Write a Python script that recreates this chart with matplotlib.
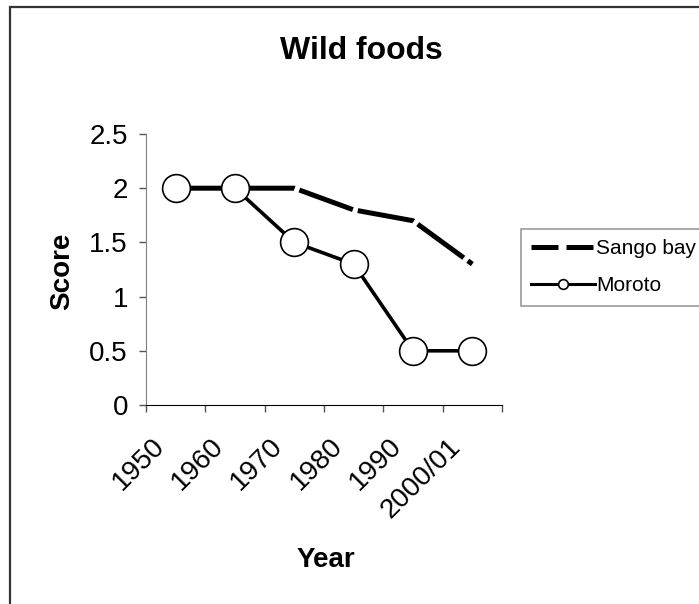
import matplotlib
matplotlib.use("Agg")
import matplotlib.pyplot as plt
import matplotlib.transforms as mtransforms
from matplotlib.lines import Line2D
from matplotlib.patches import Rectangle

plt.rcParams['font.family'] = ['Liberation Sans', 'DejaVu Sans']

# data
years = ["1950", "1960", "1970", "1980", "1990", "2000/01"]
sango_bay = [2, 2, 2, 1.8, 1.7, 1.3]
moroto = [2, 2, 1.5, 1.3, 0.5, 0.5]
y_ticks = [0, 0.5, 1, 1.5, 2, 2.5]

W, H = 699, 604
fig = plt.figure(figsize=(W / 100, H / 100), dpi=100)
ax = fig.add_axes([146 / W, 1 - 405 / H, 356 / W, 271 / H])

x = list(range(len(years)))

ax.plot(x, sango_bay, color="black", lw=3.6, dashes=(11.4, 1),
        dash_capstyle="butt", solid_capstyle="butt", zorder=2)
ax.plot(x, moroto, color="black", lw=2.6, marker="o", markersize=20,
        markerfacecolor="white", markeredgecolor="black", markeredgewidth=1.2,
        zorder=3)

ax.set_xlim(-0.5, len(years) - 0.5)
ax.set_ylim(0, 2.5)

# y axis
ax.set_yticks(y_ticks)
ax.set_yticklabels(["%g" % v for v in y_ticks])
ax.tick_params(axis="y", direction="out", length=5, width=1, color="#555555",
               labelsize=20, pad=8)

# x axis: tick marks between categories, labels at centres
ax.set_xticks(x)
ax.set_xticks([i - 0.5 for i in range(len(years) + 1)], minor=True)
ax.tick_params(axis="x", which="major", length=0, labelsize=20, pad=0)
ax.tick_params(axis="x", which="minor", direction="out", length=5, width=1,
               color="#555555")
ax.set_xticklabels(years, rotation=45, ha="right", va="center",
                   rotation_mode="anchor")
offset = mtransforms.ScaledTranslation(-11 / 72, -27 / 72, fig.dpi_scale_trans)
for lab in ax.get_xticklabels():
    lab.set_transform(lab.get_transform() + offset)

for s in ["top", "right"]:
    ax.spines[s].set_visible(False)
ax.spines["left"].set_color("#808080")
ax.spines["bottom"].set_color("black")

fig.text(361 / W, 1 - 51 / H, "Wild foods", ha="center", va="center",
         fontsize=23, fontweight="bold")
fig.text(62 / W, 1 - 271 / H, "Score", ha="center", va="center",
         fontsize=20, fontweight="bold", rotation=90)
fig.text(326 / W, 1 - 560 / H, "Year", ha="center", va="center",
         fontsize=20, fontweight="bold")

handles = [
    Line2D([], [], color="black", lw=3.6, dashes=(5.4, 1.6), dash_capstyle="butt"),
    Line2D([], [], color="black", lw=2.2, marker="o", markersize=7,
           markerfacecolor="white", markeredgecolor="black", markeredgewidth=1.2),
]
leg = fig.legend(handles, ["Sango bay", "Moroto"], loc="upper left",
                 bbox_to_anchor=(521 / W, 1 - 229 / H), fontsize=15,
                 frameon=True, fancybox=False, edgecolor="#808080",
                 handlelength=3.05, handletextpad=0.05, labelspacing=0.85,
                 borderpad=0.5, borderaxespad=0)
leg.get_frame().set_linewidth(1.2)

# outer chart border
fig.patches.append(Rectangle((10 / W, -0.1), 1.2, 1.1 - 7 / H,
                             transform=fig.transFigure, fill=False,
                             edgecolor="#333333", lw=1.6))

fig.savefig("out.png", dpi=100)
